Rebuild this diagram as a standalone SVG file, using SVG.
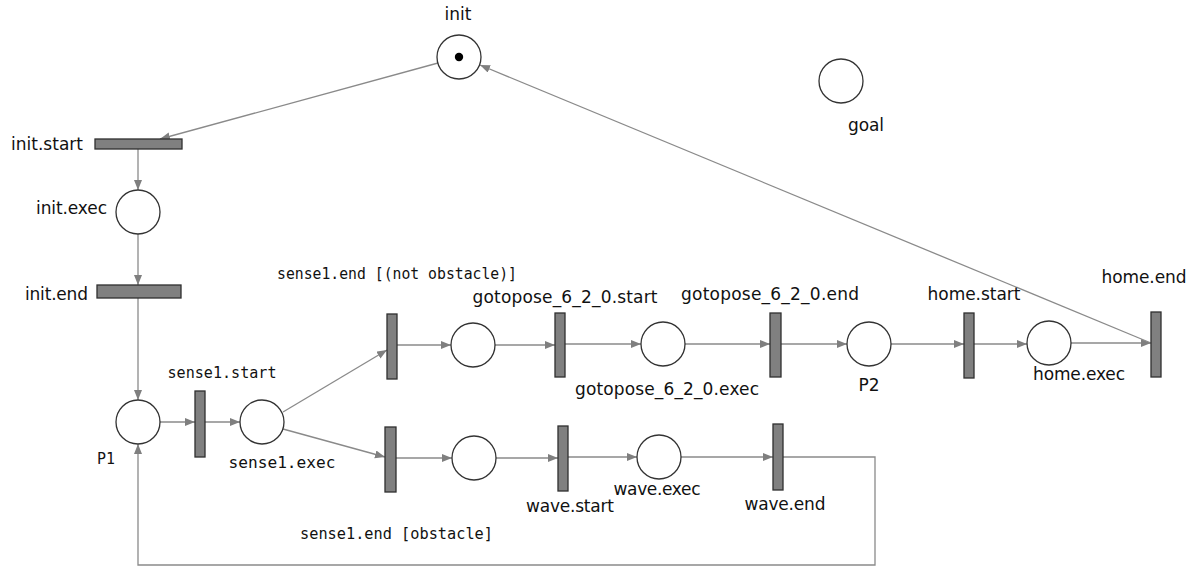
<svg xmlns="http://www.w3.org/2000/svg" width="1197" height="567" viewBox="0 0 1197 567">
<style>
.pl{fill:#fff;stroke:#333;stroke-width:1.3}
.tr{fill:#808080;stroke:#2f2f2f;stroke-width:1.3}
.tk{fill:#000}
.lb{font-family:"DejaVu Sans",Verdana,sans-serif;font-size:17px;fill:#111}
.mn{font-family:"DejaVu Sans Mono","Liberation Mono",monospace;font-size:16.5px;fill:#111}
.c{text-anchor:middle}
.r{text-anchor:end}
#connectors line,#connectors polyline{stroke:#8a8a8a;stroke-width:1.3;fill:none;marker-end:url(#ah)}
</style>
<defs>
<marker id="ah" markerUnits="userSpaceOnUse" markerWidth="12" markerHeight="10" refX="10" refY="4" orient="auto">
<path d="M0,0 L10,4 L0,8 Z" fill="#7f7f7f"/>
</marker>
</defs>
<rect width="1197" height="567" fill="#fff"/>
<g id="connectors">
<line x1="438" y1="63" x2="160" y2="139"/>
<line x1="138" y1="149" x2="138" y2="190"/>
<line x1="138" y1="234" x2="138" y2="285"/>
<line x1="138" y1="298" x2="138" y2="400"/>
<line x1="160" y1="422" x2="195" y2="422"/>
<line x1="205" y1="422" x2="240" y2="422"/>
<line x1="283" y1="412" x2="387" y2="350"/>
<line x1="283" y1="429" x2="385" y2="457"/>
<line x1="397" y1="345" x2="451" y2="345"/>
<line x1="495" y1="345" x2="555" y2="345"/>
<line x1="565" y1="344" x2="641" y2="344"/>
<line x1="685" y1="344" x2="770" y2="344"/>
<line x1="781" y1="344" x2="847" y2="344"/>
<line x1="891" y1="344" x2="964" y2="344"/>
<line x1="974" y1="344" x2="1027" y2="344"/>
<line x1="1071" y1="343" x2="1151" y2="343"/>
<line x1="1151" y1="343" x2="480" y2="65"/>
<line x1="396" y1="458" x2="452" y2="458"/>
<line x1="496" y1="458" x2="558" y2="458"/>
<line x1="568" y1="457" x2="637" y2="457"/>
<line x1="681" y1="457" x2="773" y2="457"/>
<polyline points="783,457 875,457 875,565 138,565 138,444"/>
</g>
<g id="init"><circle class="pl" cx="459" cy="57" r="22"/><circle class="tk" cx="459" cy="57" r="4.2"/><text class="lb c" x="458" y="20">init</text></g>
<g id="goal"><circle class="pl" cx="841" cy="81" r="22"/><text class="lb c" x="866" y="131" textLength="36">goal</text></g>
<g id="init_start"><rect class="tr" x="95" y="139" width="87" height="10"/><text class="lb r" x="83" y="150" textLength="72">init.start</text></g>
<g id="init_exec"><circle class="pl" cx="138" cy="212" r="22"/><text class="lb r" x="107" y="214" textLength="71">init.exec</text></g>
<g id="init_end"><rect class="tr" x="97" y="285" width="84" height="13"/><text class="lb r" x="88" y="300" textLength="63">init.end</text></g>
<g id="P1"><circle class="pl" cx="138" cy="422" r="22"/><text class="mn c" x="106" y="464" textLength="18" lengthAdjust="spacingAndGlyphs">P1</text></g>
<g id="sense1_start"><rect class="tr" x="195" y="391" width="10" height="66"/><text class="mn c" x="222" y="378" textLength="109" lengthAdjust="spacingAndGlyphs">sense1.start</text></g>
<g id="sense1_exec"><circle class="pl" cx="262" cy="422" r="22"/><text class="mn c" x="282" y="468" textLength="107" lengthAdjust="spacingAndGlyphs">sense1.exec</text></g>
<g id="sense1_end_notobstacle"><rect class="tr" x="387" y="314" width="10" height="65"/><text class="mn" x="277" y="279" textLength="240" lengthAdjust="spacingAndGlyphs">sense1.end [(not obstacle)]</text></g>
<g id="p_goto_pre"><circle class="pl" cx="473" cy="345" r="22"/></g>
<g id="gotopose_start"><rect class="tr" x="555" y="313" width="10" height="64"/><text class="lb c" x="565" y="303" textLength="185">gotopose_6_2_0.start</text></g>
<g id="gotopose_exec"><circle class="pl" cx="663" cy="344" r="22"/><text class="lb c" x="667" y="395" textLength="184">gotopose_6_2_0.exec</text></g>
<g id="gotopose_end"><rect class="tr" x="770" y="313" width="11" height="64"/><text class="lb c" x="770" y="300" textLength="178">gotopose_6_2_0.end</text></g>
<g id="P2"><circle class="pl" cx="869" cy="344" r="22"/><text class="lb c" x="869" y="391">P2</text></g>
<g id="home_start"><rect class="tr" x="964" y="313" width="10" height="65"/><text class="lb c" x="974" y="300" textLength="93">home.start</text></g>
<g id="home_exec"><circle class="pl" cx="1049" cy="343" r="22"/><text class="lb c" x="1079" y="380" textLength="92">home.exec</text></g>
<g id="home_end"><rect class="tr" x="1151" y="312" width="10" height="65"/><text class="lb c" x="1144" y="283" textLength="85">home.end</text></g>
<g id="sense1_end_obstacle"><rect class="tr" x="385" y="427" width="11" height="65"/><text class="mn" x="300" y="539" textLength="193" lengthAdjust="spacingAndGlyphs">sense1.end [obstacle]</text></g>
<g id="p_wave_pre"><circle class="pl" cx="474" cy="458" r="22"/></g>
<g id="wave_start"><rect class="tr" x="558" y="426" width="10" height="65"/><text class="lb c" x="570" y="512" textLength="88">wave.start</text></g>
<g id="wave_exec"><circle class="pl" cx="659" cy="457" r="22"/><text class="lb c" x="657" y="495" textLength="87">wave.exec</text></g>
<g id="wave_end"><rect class="tr" x="773" y="424" width="10" height="66"/><text class="lb c" x="785" y="510" textLength="81">wave.end</text></g>
</svg>
